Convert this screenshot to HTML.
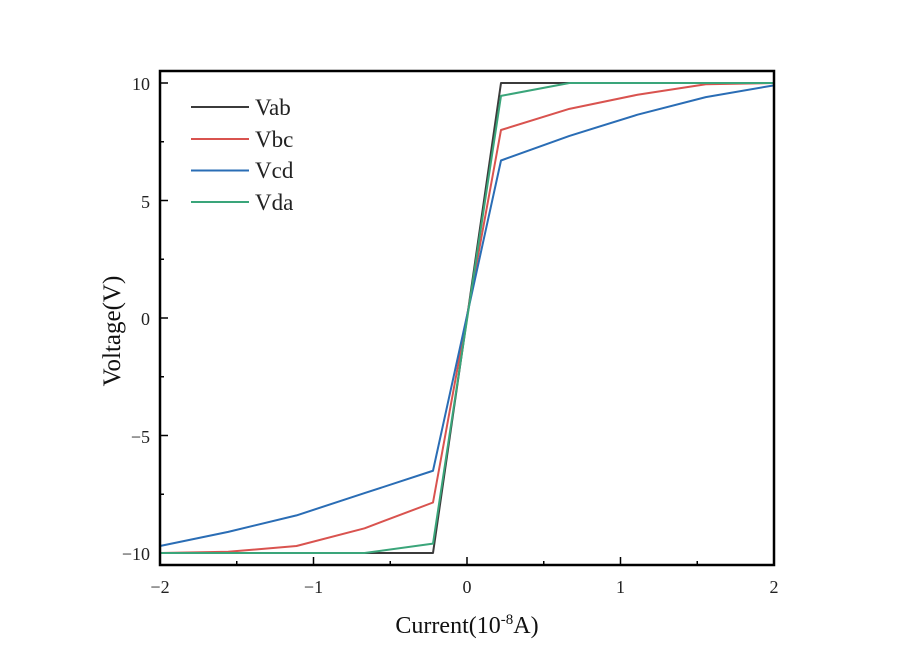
<!DOCTYPE html>
<html><head><meta charset="utf-8"><style>body{margin:0;background:#fff}svg{display:block}</style></head><body>
<svg width="900" height="655" xmlns="http://www.w3.org/2000/svg" font-family="Liberation Serif, serif">
<g stroke="#000" stroke-width="1.5" fill="none">
<path d="M160 83h8M160 200.5h8M160 318h8M160 435.5h8M160 553h8M160 141.75h4M160 259.25h4M160 376.75h4M160 494.25h4"/>
<path d="M160 565v-8M313.5 565v-8M467 565v-8M620.5 565v-8M774 565v-8M236.75 565v-4M390.25 565v-4M543.75 565v-4M697.25 565v-4"/>
</g>
<g fill="none" stroke-width="2" stroke-linejoin="round">
<polyline stroke="#3b3b3b" points="160,553 433,553 501,83 774,83"/>
<polyline stroke="#d9534f" points="160,553 228.2,551.8 296.5,546 364.6,528.3 433,502.5 501,130 569.4,108.85 637.5,94.75 705.8,84.2 774,83"/>
<polyline stroke="#2a6db5" points="160,546 228.2,531.85 296.5,515.4 364.6,493.1 433,470.75 501,160.5 569.4,135.9 637.5,114.7 705.8,97.1 774,85.35"/>
<polyline stroke="#3aa57a" points="160,553 364.6,553 433,543.6 501,95.9 569.4,83 774,83"/>
</g>
<rect x="160" y="71" width="614" height="494" fill="none" stroke="#000" stroke-width="2.5"/>
<g font-size="18" fill="#222">
<text x="150" y="90" text-anchor="end">10</text>
<text x="150" y="208" text-anchor="end">5</text>
<text x="150" y="325" text-anchor="end">0</text>
<text x="150" y="443" text-anchor="end">−5</text>
<text x="150" y="560" text-anchor="end">−10</text>
<text x="160" y="593" text-anchor="middle">−2</text>
<text x="313.5" y="593" text-anchor="middle">−1</text>
<text x="467" y="593" text-anchor="middle">0</text>
<text x="620.5" y="593" text-anchor="middle">1</text>
<text x="774" y="593" text-anchor="middle">2</text>
</g>
<text x="467" y="633" font-size="24" text-anchor="middle" fill="#111">Current(10<tspan dy="-9" font-size="15">-8</tspan><tspan dy="9">A)</tspan></text>
<text transform="translate(120,331) rotate(-90)" font-size="25" text-anchor="middle" fill="#111">Voltage(V)</text>
<g stroke-width="2">
<line x1="191" y1="107" x2="249" y2="107" stroke="#3b3b3b"/>
<line x1="191" y1="139" x2="249" y2="139" stroke="#d9534f"/>
<line x1="191" y1="170.5" x2="249" y2="170.5" stroke="#2a6db5"/>
<line x1="191" y1="202" x2="249" y2="202" stroke="#3aa57a"/>
</g>
<g font-size="23" fill="#222">
<text x="255" y="115">Vab</text>
<text x="255" y="147">Vbc</text>
<text x="255" y="178">Vcd</text>
<text x="255" y="210">Vda</text>
</g>
</svg>
</body></html>
